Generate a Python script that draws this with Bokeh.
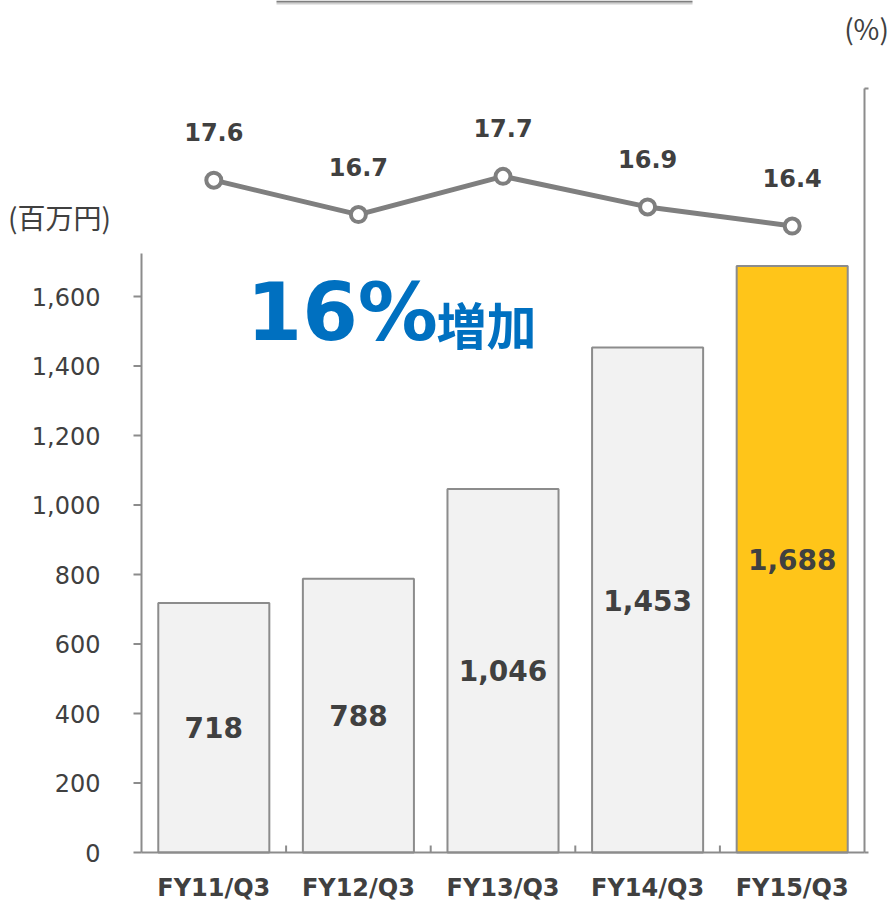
from bokeh.plotting import figure
from bokeh.models import Range1d, ColumnDataSource
from bokeh.core.properties import value
from bokeh.embed import file_html
from bokeh.resources import INLINE

# ---- data ----
categories = ["FY11/Q3", "FY12/Q3", "FY13/Q3", "FY14/Q3", "FY15/Q3"]
sales = [718, 788, 1046, 1453, 1688]          # 百万円
ratio = [17.6, 16.7, 17.7, 16.9, 16.4]        # %
left_ticks = [0, 200, 400, 600, 800, 1000, 1200, 1400, 1600]
right_ticks = [0, 20]
left_unit = "(百万円)"
right_unit = "(%)"
headline_num = "16%"
headline_word = "増加"

# ---- style ----
BASE = "#F2F2F2"
HIGHLIGHT = "#FFC519"
GRAY = "#8C8C8C"
LINE = "#7F7F7F"
TEXT = "#404040"
BLUE = "#0070C0"
FONT = "DejaVu Sans"
CJK = "Noto Sans CJK JP"

W, H = 894, 901
# plot-area geometry (pixels) -> data converters
FRAME_LEFT, CAT_W = 141.0, 144.6
ZERO_Y, PX_PER_L, PX_PER_R = 852.0, 0.3475, 38.2


def px_x(px):
    return (px - FRAME_LEFT) / CAT_W


def px_yl(py):
    return (ZERO_Y - py) / PX_PER_L


def px_yr(py):
    return (ZERO_Y - py) / PX_PER_R


n = len(categories)
xs = [i + 0.5 for i in range(n)]
colors = [HIGHLIGHT if c == categories[-1] else BASE for c in categories]
src = ColumnDataSource(dict(
    x=xs,
    cat=categories,
    sales=sales,
    mid=[v / 2 for v in sales],
    sales_lbl=[f"{v:,}" for v in sales],
    ratio=ratio,
    ratio_lbl=[f"{r:.1f}" for r in ratio],
    base=[0] * n,
    color=colors,
))

p = figure(x_range=Range1d(px_x(0), px_x(W)),
           y_range=Range1d(px_yl(H), px_yl(0)),
           width=W, height=H, output_backend="svg", toolbar_location=None,
           x_axis_location=None, y_axis_location=None,
           min_border=0, outline_line_color=None,
           background_fill_color="white", border_fill_color="white")
p.grid.visible = False
p.extra_y_ranges = {"pct": Range1d(px_yr(H), px_yr(0))}

TICK_L = 8 / CAT_W
TICK_R = 4 / CAT_W

# decorative frame edge at the top (cut-off box of the original slide)
p.segment(x0=[px_x(276)], x1=[px_x(692)], y0=[px_yl(3)], y1=[px_yl(3)],
          line_color="#D0D0D0", line_width=2)
p.segment(x0=[px_x(276)], x1=[px_x(692)], y0=[px_yl(1)], y1=[px_yl(1)],
          line_color="#7F7F7F", line_width=2)

# bars
p.vbar(x="x", top="sales", width=0.768, source=src, fill_color="color",
       line_color=GRAY, line_width=2)

# left axis (rule, ticks, labels)
p.segment(x0=[0], x1=[0], y0=[0], y1=[px_yl(253)], line_color=GRAY,
          line_width=2)
p.segment(x0=[-TICK_L] * len(left_ticks), x1=[0] * len(left_ticks),
          y0=left_ticks, y1=left_ticks, line_color=GRAY, line_width=2)
p.text(x=[px_x(100)] * len(left_ticks), y=left_ticks,
       text=[f"{t:,}" for t in left_ticks], text_align="right",
       text_baseline="middle", text_font=value(FONT),
       text_font_size="24px", text_color=TEXT)

# right axis (rule and ticks)
p.segment(x0=[n], x1=[n], y0=[0], y1=[right_ticks[-1]], y_range_name="pct",
          line_color=GRAY, line_width=2)
p.segment(x0=[n] * len(right_ticks), x1=[n + TICK_R] * len(right_ticks),
          y0=right_ticks, y1=right_ticks, y_range_name="pct",
          line_color=GRAY, line_width=2)

# baseline and category separators
p.segment(x0=[0], x1=[n], y0=[0], y1=[0], line_color=GRAY, line_width=2)
seps = list(range(1, n))
p.segment(x0=seps, x1=seps, y0=[0] * len(seps),
          y1=[7 / PX_PER_L] * len(seps), line_color=GRAY, line_width=2)

# bar value labels
p.text(x="x", y="mid", text="sales_lbl", source=src, text_align="center",
       text_baseline="middle", text_font=value(FONT), text_font_style="bold",
       text_font_size="28px", text_color=TEXT)

# category labels
p.text(x="x", y="base", text="cat", source=src, y_offset=35,
       text_align="center", text_baseline="middle", text_font=value(FONT),
       text_font_style="bold", text_font_size="24px", text_color=TEXT)

# ratio line
p.line(x="x", y="ratio", source=src, y_range_name="pct", line_color=LINE,
       line_width=5)
p.scatter(x="x", y="ratio", source=src, y_range_name="pct", size=15,
          fill_color="white", line_color=LINE, line_width=4)
p.text(x="x", y="ratio", text="ratio_lbl", source=src, y_range_name="pct",
       y_offset=-48, text_align="center", text_baseline="middle",
       text_font=value(FONT), text_font_style="bold", text_font_size="24px",
       text_color=TEXT)

# headline
p.text(x=[px_x(246)], y=[px_yl(312)], text=[headline_num],
       text_font=value(FONT), text_font_style="bold", text_font_size="80px",
       text_color=BLUE, text_align="left", text_baseline="middle")
p.text(x=[px_x(436)], y=[px_yl(322)], text=[headline_word],
       text_font=value(CJK), text_font_style="bold", text_font_size="50px",
       text_color=BLUE, text_align="left", text_baseline="middle")

# unit labels
p.text(x=[px_x(59)], y=[px_yl(216)], text=[left_unit], text_font=value(CJK),
       text_font_size="28px", text_color=TEXT, text_align="center",
       text_baseline="middle")
p.text(x=[px_x(866)], y=[px_yr(27)], y_range_name="pct", text=[right_unit],
       text_font=value(CJK), text_font_size="28px", text_color=TEXT,
       text_align="center", text_baseline="middle")

open("out.html", "w").write(file_html(p, INLINE))
